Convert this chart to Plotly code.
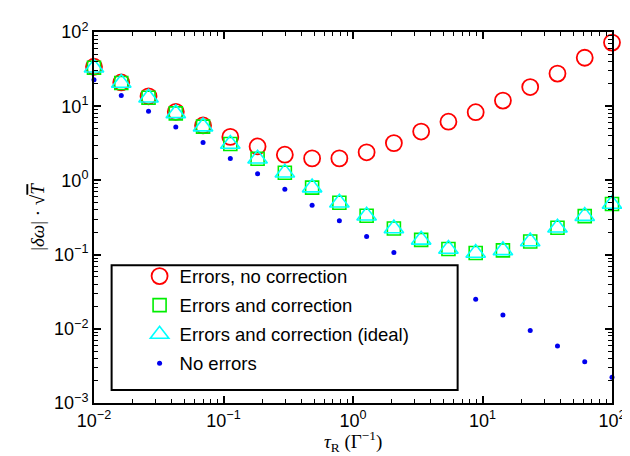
import plotly.graph_objects as go

tau = [0.01, 0.01624, 0.02637, 0.04281, 0.06952, 0.1129, 0.1833, 0.2976, 0.4833, 0.7848,
       1.274, 2.069, 3.360, 5.456, 8.859, 14.38, 23.36, 37.93, 61.58, 100.0]

no_correction = [34, 20.9, 13.6, 8.4, 5.5, 3.86, 2.87, 2.22, 1.98, 1.98,
                 2.39, 3.18, 4.55, 6.18, 8.3, 11.9, 18.1, 27.5, 45, 72]
with_correction = [33, 20.5, 13, 8.0, 5.3, 3.1, 1.96, 1.27, 0.80, 0.50,
                   0.334, 0.225, 0.158, 0.119, 0.105, 0.114, 0.15, 0.23, 0.33, 0.48]
ideal_correction = [33, 20.5, 13, 8.0, 5.3, 3.1, 1.96, 1.27, 0.80, 0.50,
                    0.334, 0.225, 0.158, 0.119, 0.105, 0.114, 0.15, 0.23, 0.33, 0.48]
no_errors = [22.7, 13.9, 8.58, 5.25, 3.24, 1.98, 1.23, 0.76, 0.464, 0.287,
             0.176, 0.107, 0.065, 0.040, 0.0251, 0.0154, 0.0095, 0.00588, 0.0036, 0.00222]

names = ["Errors, no correction", "Errors and correction",
         "Errors and correction (ideal)", "No errors"]

xtickvals = [0.01, 0.1, 1, 10, 100]
xticktext = ["10<sup>−2</sup>", "10<sup>−1</sup>", "10<sup>0</sup>", "10<sup>1</sup>", "10<sup>2</sup>"]
ytickvals = [0.001, 0.01, 0.1, 1, 10, 100]
yticktext = ["10<sup>−3</sup>", "10<sup>−2</sup>", "10<sup>−1</sup>", "10<sup>0</sup>",
             "10<sup>1</sup>", "10<sup>2</sup>"]

def minor_vals(lo, hi):
    vals = []
    for e in range(lo, hi):
        for m in range(2, 10):
            vals.append(m * 10.0 ** e)
    return vals

fig = go.Figure()
fig.add_trace(go.Scatter(x=tau, y=no_correction, mode="markers", name=names[0],
                         legendgroup="a", cliponaxis=False,
                         marker=dict(symbol="circle-open", size=16, color="#ff0000",
                                     line=dict(width=1.8, color="#ff0000"))))
fig.add_trace(go.Scatter(x=tau, y=with_correction, mode="markers", name=names[1],
                         legendgroup="b", cliponaxis=False,
                         marker=dict(symbol="square-open", size=13, color="#00ee00",
                                     line=dict(width=1.6, color="#00ee00"))))
fig.add_trace(go.Scatter(x=tau, y=ideal_correction, mode="markers", name=names[2],
                         legendgroup="c", cliponaxis=False,
                         marker=dict(symbol="triangle-up-open", size=17, color="#00ffff",
                                     line=dict(width=1.6, color="#00ffff"))))
fig.add_trace(go.Scatter(x=tau, y=no_errors, mode="markers", name=names[3],
                         legendgroup="d", cliponaxis=False,
                         marker=dict(symbol="circle", size=5, color="#0000ee")))

axis_common = dict(
    type="log", showline=True, linecolor="black", linewidth=2, mirror="ticks",
    ticks="inside", ticklen=7, tickwidth=1.5, tickcolor="black", showgrid=False,
    zeroline=False, tickfont=dict(family="Liberation Sans", size=18, color="black"),
)

fig.update_xaxes(range=[-2, 2], tickvals=xtickvals, ticktext=xticktext,
                 minor=dict(tickvals=minor_vals(-2, 2), ticks="inside", ticklen=4,
                            tickwidth=1.2, tickcolor="black", showgrid=False),
                 **axis_common)
fig.update_yaxes(range=[-3, 2], tickvals=ytickvals, ticktext=yticktext,
                 minor=dict(tickvals=minor_vals(-3, 2), ticks="inside", ticklen=4,
                            tickwidth=1.2, tickcolor="black", showgrid=False),
                 title=dict(text="|<i>δω</i>| · √<span style='text-decoration:overline'><i>T</i></span>",
                            font=dict(family="Liberation Serif", size=19, color="black"),
                            standoff=4),
                 **axis_common)

fig.add_annotation(text="<i>τ</i><sub>R</sub> (Γ<sup>−1</sup>)", xref="paper", yref="paper",
                   x=0.5, y=-0.103, xanchor="center", yanchor="middle", showarrow=False,
                   font=dict(family="Liberation Serif", size=19, color="black"))

fig.add_shape(type="rect", xref="paper", yref="paper", x0=0.034, x1=0.702, y0=0.035, y1=0.371,
              line=dict(color="black", width=2), fillcolor="white", layer="above")

fig.update_layout(
    width=630, height=456,
    margin=dict(l=86, r=15, t=20, b=61),
    plot_bgcolor="white", paper_bgcolor="white",
    showlegend=True,
    legend=dict(x=0.088, y=0.392, xanchor="left", yanchor="top",
                bgcolor="rgba(0,0,0,0)", borderwidth=0,
                tracegroupgap=2, traceorder="grouped",
                font=dict(family="Liberation Sans", size=18.5, color="black")),
)

fig.write_html("out.html")
